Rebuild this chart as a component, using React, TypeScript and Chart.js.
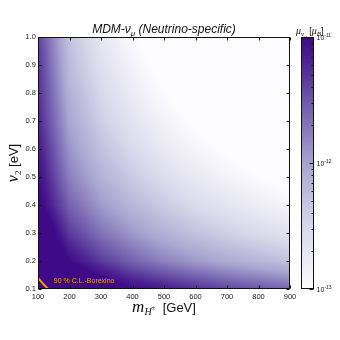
import React, { useEffect, useRef } from "react";
import { Chart, registerables } from "chart.js";
Chart.register(...registerables);

// ---- data ----
const M_VALUES = [100, 200, 300, 400, 500, 600, 700, 800, 900]; // GeV
const V2_VALUES = [0.1, 0.2, 0.3, 0.4, 0.5, 0.6, 0.7, 0.8, 0.9, 1.0]; // eV
// log10(mu / mu_B), rows follow V2_VALUES, columns follow M_VALUES
const LOG_MU = [
  [-9.8, -10.4, -10.75, -11.0, -11.12, -11.27, -11.4, -11.5, -11.6],
  [-10.3, -11.0, -11.33, -11.58, -11.78, -11.93, -12.07, -12.18, -12.29],
  [-10.6, -11.33, -11.68, -11.93, -12.13, -12.29, -12.43, -12.55, -12.65],
  [-10.9, -11.58, -11.93, -12.18, -12.38, -12.55, -12.68, -12.8, -12.9],
  [-11.0, -11.77, -12.13, -12.38, -12.58, -12.74, -12.87, -13.0, -13.1],
  [-11.1, -11.9, -12.28, -12.54, -12.74, -12.9, -13.04, -13.16, -13.26],
  [-11.2, -12.03, -12.41, -12.67, -12.87, -13.04, -13.18, -13.29, -13.39],
  [-11.25, -12.13, -12.52, -12.78, -12.99, -13.16, -13.29, -13.41, -13.51],
  [-11.3, -12.22, -12.62, -12.88, -13.09, -13.26, -13.39, -13.51, -13.61],
  [-11.35, -12.3, -12.7, -12.97, -13.18, -13.35, -13.49, -13.6, -13.7],
];
const BOREXINO_M = [100, 115, 132];
const BOREXINO_V2 = [0.14, 0.12, 0.1];
const BOREXINO_LABEL = "90 % C.L.-Borexino";
const BOREXINO_LABEL_AT = { m: 150, v2: 0.12 };

const X_MIN = 100, X_MAX = 900, X_STEP = 100;
const Y_MIN = 0.1, Y_MAX = 1.0, Y_STEP = 0.1;
const CB_MIN = 1e-13, CB_MAX = 1e-11;
const CB_MAJOR = [1e-11, 1e-12, 1e-13];
const CB_MAJOR_EXP = ["-11", "-12", "-13"];
const CB_MINOR = [2e-13, 3e-13, 4e-13, 5e-13, 6e-13, 7e-13, 8e-13, 9e-13, 2e-12, 3e-12, 4e-12, 5e-12, 6e-12, 7e-12, 8e-12, 9e-12];

// ---- styles ----
const CMAP: [number, number[]][] = [
  [0.0, [252, 252, 254]],
  [0.25, [216, 214, 234]],
  [0.5, [167, 164, 208]],
  [0.75, [108, 86, 170]],
  [0.9, [78, 36, 146]],
  [1.0, [63, 10, 136]],
];
const SANS = '"Liberation Sans", Arial, sans-serif';
const SERIF = '"Liberation Serif", "Times New Roman", serif';
const ORANGE = "#f5a300";

function cmap(t: number): number[] {
  t = Math.max(0, Math.min(1, t));
  for (let i = 0; i < CMAP.length - 1; i++) {
    const [t0, c0] = CMAP[i];
    const [t1, c1] = CMAP[i + 1];
    if (t <= t1) {
      const f = (t - t0) / (t1 - t0);
      return [0, 1, 2].map((k) => Math.round(c0[k] + (c1[k] - c0[k]) * f));
    }
  }
  return CMAP[CMAP.length - 1][1];
}

function locate(arr: number[], v: number): [number, number] {
  if (v <= arr[0]) return [0, 0];
  if (v >= arr[arr.length - 1]) return [arr.length - 2, 1];
  for (let i = 0; i < arr.length - 1; i++) {
    if (v <= arr[i + 1]) return [i, (v - arr[i]) / (arr[i + 1] - arr[i])];
  }
  return [arr.length - 2, 1];
}

function valueAt(m: number, v: number): number {
  const [i, fx] = locate(M_VALUES, m);
  const [j, fy] = locate(V2_VALUES, v);
  const a = LOG_MU[j][i], b = LOG_MU[j][i + 1];
  const c = LOG_MU[j + 1][i], d = LOG_MU[j + 1][i + 1];
  return (a * (1 - fx) + b * fx) * (1 - fy) + (c * (1 - fx) + d * fx) * fy;
}

const LMIN = Math.log10(CB_MIN), LMAX = Math.log10(CB_MAX);

type Seg = { t: string; f: string; dy?: number };
function drawRich(ctx: CanvasRenderingContext2D, segs: Seg[], x: number, y: number, align: "left" | "center") {
  ctx.textAlign = "left";
  ctx.textBaseline = "alphabetic";
  let total = 0;
  for (const s of segs) { ctx.font = s.f; total += ctx.measureText(s.t).width; }
  let cx = align === "center" ? x - total / 2 : x;
  for (const s of segs) {
    ctx.font = s.f;
    ctx.fillText(s.t, cx, y + (s.dy || 0));
    cx += ctx.measureText(s.t).width;
  }
}

const heatPlugin = {
  id: "heat",
  beforeDatasetsDraw(chart: any) {
    const { ctx, chartArea: ca, scales } = chart;
    const xs = scales.x, ys = scales.y, cb = scales.cb;
    const w = Math.round(ca.right - ca.left), h = Math.round(ca.bottom - ca.top);
    const off = document.createElement("canvas");
    off.width = w; off.height = h;
    const octx = off.getContext("2d")!;
    const img = octx.createImageData(w, h);
    for (let py = 0; py < h; py++) {
      const v = ys.getValueForPixel(ca.top + py + 0.5);
      for (let px = 0; px < w; px++) {
        const m = xs.getValueForPixel(ca.left + px + 0.5);
        const val = valueAt(m, v);
        const c = cmap((val - LMIN) / (LMAX - LMIN));
        const k = (py * w + px) * 4;
        img.data[k] = c[0]; img.data[k + 1] = c[1]; img.data[k + 2] = c[2]; img.data[k + 3] = 255;
      }
    }
    octx.putImageData(img, 0, 0);
    ctx.drawImage(off, ca.left, ca.top);

    // colorbar
    const cbL = ca.right + 11, cbW = 13;
    const top = cb.getPixelForValue(CB_MAX), bot = cb.getPixelForValue(CB_MIN);
    for (let y = Math.floor(top); y < Math.ceil(bot); y++) {
      const val = cb.getValueForPixel(y + 0.5);
      const c = cmap((Math.log10(val) - LMIN) / (LMAX - LMIN));
      ctx.fillStyle = `rgb(${c[0]},${c[1]},${c[2]})`;
      ctx.fillRect(cbL, y, cbW, 1);
    }
  },
  afterDatasetsDraw(chart: any) {
    const { ctx, chartArea: ca, scales } = chart;
    const xs = scales.x, ys = scales.y, cb = scales.cb;
    ctx.save();
    // annotation
    ctx.fillStyle = ORANGE;
    ctx.font = `7px ${SANS}`;
    ctx.textAlign = "left";
    ctx.textBaseline = "alphabetic";
    ctx.fillText(BOREXINO_LABEL, xs.getPixelForValue(BOREXINO_LABEL_AT.m), ys.getPixelForValue(BOREXINO_LABEL_AT.v2));

    // frame + ticks
    ctx.strokeStyle = "#111";
    ctx.lineWidth = 1;
    const L = Math.round(ca.left) + 0.5, R = Math.round(ca.right) - 0.5;
    const T = Math.round(ca.top) + 0.5, B = Math.round(ca.bottom) - 0.5;
    ctx.strokeRect(L, T, R - L, B - T);
    ctx.beginPath();
    for (let xv = X_MIN; xv <= X_MAX; xv += X_STEP) {
      const x = Math.round(xs.getPixelForValue(xv)) + 0.5;
      ctx.moveTo(x, B); ctx.lineTo(x, B - 3);
      ctx.moveTo(x, T); ctx.lineTo(x, T + 3);
    }
    for (let k = 0; k <= Math.round((Y_MAX - Y_MIN) / Y_STEP); k++) {
      const y = Math.round(ys.getPixelForValue(Y_MIN + k * Y_STEP)) + 0.5;
      ctx.moveTo(L, y); ctx.lineTo(L + 3, y);
      ctx.moveTo(R, y); ctx.lineTo(R - 3, y);
    }
    ctx.stroke();

    // colorbar frame + ticks
    const cbL = ca.right + 11, cbW = 13;
    const top = cb.getPixelForValue(CB_MAX), bot = cb.getPixelForValue(CB_MIN);
    ctx.strokeRect(Math.round(cbL) + 0.5, Math.round(top) + 0.5, cbW - 1, Math.round(bot - top) - 1);
    const cbR = Math.round(cbL) + cbW - 0.5;
    ctx.beginPath();
    for (const v of CB_MINOR) {
      const y = Math.round(cb.getPixelForValue(v)) + 0.5;
      ctx.moveTo(cbR, y); ctx.lineTo(cbR - 2, y);
    }
    for (const v of CB_MAJOR) {
      const y = Math.round(cb.getPixelForValue(v)) + 0.5;
      ctx.moveTo(cbR, y); ctx.lineTo(cbR - 4, y);
    }
    ctx.stroke();

    ctx.fillStyle = "#222";
    CB_MAJOR.forEach((v, i) => {
      const y = cb.getPixelForValue(v);
      drawRich(ctx, [
        { t: "10", f: `7px ${SANS}` },
        { t: CB_MAJOR_EXP[i], f: `5px ${SANS}`, dy: -3.5 },
      ], cbR + 3, y + 3, "left");
    });

    // colorbar title
    ctx.fillStyle = "#111";
    drawRich(ctx, [
      { t: "μ", f: `italic 10px ${SERIF}` },
      { t: "ν", f: `italic 7px ${SERIF}`, dy: 2 },
      { t: "μ", f: `italic 5px ${SERIF}`, dy: 4 },
      { t: " [", f: `9px ${SANS}` },
      { t: "μ", f: `italic 10px ${SERIF}` },
      { t: "B", f: `italic 7px ${SERIF}`, dy: 2 },
      { t: "]", f: `9px ${SANS}` },
    ], cbL - 5, top - 3, "left");

    // title
    const cx = (ca.left + ca.right) / 2;
    drawRich(ctx, [
      { t: "MDM-ν", f: `italic 12px ${SANS}` },
      { t: "μ", f: `italic 8px ${SANS}`, dy: 3 },
      { t: " (Neutrino-specific)", f: `italic 12px ${SANS}` },
    ], cx, ca.top - 4, "center");

    // x title
    drawRich(ctx, [
      { t: "m", f: `italic 17px ${SERIF}` },
      { t: "H", f: `italic 10px ${SERIF}`, dy: 3 },
      { t: "±", f: `7px ${SERIF}`, dy: -2 },
      { t: "  [GeV]", f: `13px ${SANS}` },
    ], cx, ca.bottom + 23, "center");

    // y title
    ctx.translate(18, (ca.top + ca.bottom) / 2);
    ctx.rotate(-Math.PI / 2);
    drawRich(ctx, [
      { t: "v", f: `italic 16px ${SERIF}` },
      { t: "2", f: `9px ${SERIF}`, dy: 3 },
      { t: " [eV]", f: `13px ${SANS}` },
    ], 0, 0, "center");
    ctx.restore();
  },
};

export default function App() {
  const ref = useRef<HTMLCanvasElement>(null);
  useEffect(() => {
    const canvas = ref.current!;
    const chart = new Chart(canvas, {
      type: "scatter",
      data: {
        datasets: [
          {
            data: BOREXINO_M.map((m, i) => ({ x: m, y: BOREXINO_V2[i] })),
            showLine: true,
            borderColor: ORANGE,
            borderWidth: 2,
            pointRadius: 0,
            fill: false,
          },
        ],
      },
      options: {
        responsive: false,
        animation: false,
        events: [],
        layout: { padding: { top: 37, left: 0, right: 0, bottom: 0 } },
        plugins: { legend: { display: false }, tooltip: { enabled: false }, title: { display: false } },
        scales: {
          x: {
            type: "linear", min: X_MIN, max: X_MAX,
            grid: { display: false, drawTicks: false },
            border: { display: false },
            ticks: { stepSize: X_STEP, autoSkip: false, maxRotation: 0, padding: 3, color: "#222", font: { size: 7.5, family: SANS } },
            afterFit: (s: any) => { s.height = 51; },
          },
          y: {
            type: "linear", min: Y_MIN, max: Y_MAX,
            grid: { display: false, drawTicks: false },
            border: { display: false },
            ticks: { stepSize: Y_STEP, autoSkip: false, padding: 2, color: "#222", font: { size: 7.5, family: SANS }, callback: (v: any) => Number(v).toFixed(1) },
            afterFit: (s: any) => { s.width = 38; },
          },
          cb: {
            type: "logarithmic", position: "right", min: CB_MIN, max: CB_MAX,
            grid: { display: false, drawTicks: false },
            border: { display: false },
            ticks: { display: false },
            afterFit: (s: any) => { s.width = 50; },
          },
        },
      } as any,
      plugins: [heatPlugin],
    });
    return () => chart.destroy();
  }, []);
  return (
    <div style={{ position: "absolute", left: 0, top: 0, width: 340, height: 340, background: "#fff" }}>
      <canvas ref={ref} width={340} height={340} />
    </div>
  );
}
